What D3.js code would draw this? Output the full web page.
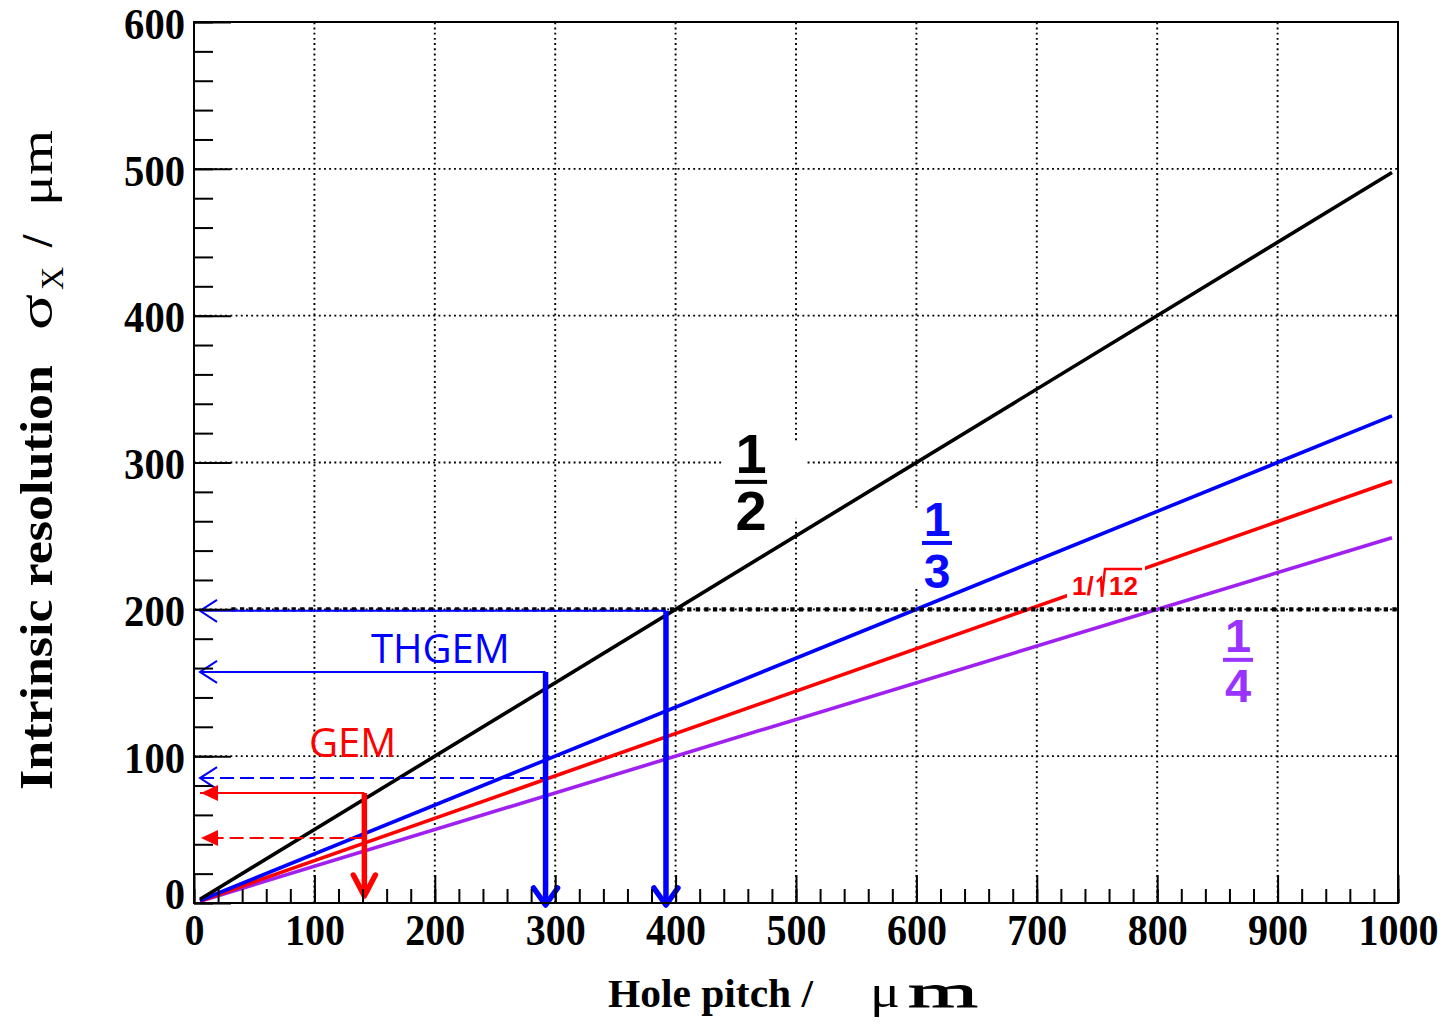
<!DOCTYPE html>
<html><head><meta charset="utf-8">
<script src="https://cdn.jsdelivr.net/npm/d3@7"></script>
<style>body{margin:0;background:#fff}</style>
</head><body>
<svg id="c" width="1445" height="1036"></svg>
<script>
// ---------- data ----------
const pitch = [5, 995];                 // hole pitch (µm)
const halfVals = [2.5, 497.5];          // σ = p/2
const thirdVals = [1.7, 331.7];         // σ = p/3
const sqrt12Vals = [1.4, 287.2];        // σ = p/√12
const quarterVals = [1.25, 248.75];     // σ = p/4
const xTickValues = [0,100,200,300,400,500,600,700,800,900,1000];
const xTickLabels = ["0","100","200","300","400","500","600","700","800","900","1000"];
const yTickValues = [0,100,200,300,400,500,600];
const yTickLabels = ["0","100","200","300","400","500","600"];
const refLevel = 200;                   // dotted reference line
// THGEM annotation arrows
const thgemPitch = [392, 292];
const thgemRes = [199, 157.4];
const thgemDashedRes = 85.1;
// GEM annotation arrows
const gemPitch = 141.5;
const gemRes = 74.9;
const gemDashedRes = 44.3;
const arrowTipPitch = 5;

// ---------- setup ----------
const svg = d3.select("#c");
svg.append("rect").attr("width",1445).attr("height",1036).attr("fill","#fff");
const x = d3.scaleLinear().domain([0,1000]).range([194,1398]);
const y = d3.scaleLinear().domain([0,600]).range([903,22]);

// grid
const grid = svg.append("g").attr("stroke","#000").attr("stroke-width",1.9).attr("stroke-dasharray","1.9 3.3");
xTickValues.slice(1,-1).forEach(v=>{
  grid.append("line").attr("x1",x(v)).attr("x2",x(v)).attr("y1",y(0)).attr("y2",y(600));
});
yTickValues.slice(1,-1).forEach(v=>{
  grid.append("line").attr("x1",x(0)).attr("x2",x(1000)).attr("y1",y(v)).attr("y2",y(v));
});

// white boxes behind fraction labels
function box(px0,py0,px1,py1){
  svg.append("rect").attr("x",px0).attr("y",py0).attr("width",px1-px0).attr("height",py1-py0).attr("fill","#fff");
}
box(x(440), y(314.3), x(509), y(261.8));
box(x(590), y(268.4), x(640), y(215.5));

// curves
const line = d3.line().x(d=>x(d[0])).y(d=>y(d[1]));
const series = [
  {v:quarterVals, c:"#a020f0"},
  {v:sqrt12Vals, c:"#ff0000"},
  {v:thirdVals, c:"#0000ff"},
  {v:halfVals, c:"#000000"}
];
series.forEach(s=>{
  svg.append("path").attr("d", line(pitch.map((p,i)=>[p,s.v[i]])))
    .attr("fill","none").attr("stroke",s.c).attr("stroke-width",3.6);
});

// red label with white background
const rl = svg.append("g").attr("transform",`translate(${x(729.2)},${y(209.8)})`);
rl.append("rect").attr("x",-5).attr("y",-33).attr("width",78).attr("height",38).attr("fill","#fff");
rl.append("text").attr("x",0).attr("y",0).attr("font-family","Liberation Sans, Arial, sans-serif")
  .attr("font-weight","bold").attr("font-size",26).attr("fill","#ff0000").text("1/");
rl.append("path").attr("d","M25,-13 L29,-17 L30,2 L33,-26 L70,-26").attr("fill","none")
  .attr("stroke","#ff0000").attr("stroke-width",2.4);
rl.append("text").attr("x",37).attr("y",0).attr("font-family","Liberation Sans, Arial, sans-serif")
  .attr("font-weight","bold").attr("font-size",26).attr("fill","#ff0000").text("12");

// reference dotted line at 200
svg.append("line").attr("x1",x(31)).attr("x2",x(1000)).attr("y1",y(refLevel)).attr("y2",y(refLevel))
  .attr("stroke","#000").attr("stroke-width",4.2).attr("stroke-dasharray","4.3 4.3");

// fractions
function frac(pc, rc, num, den, color, fs, barW, nOff, dOff){
  const g = svg.append("g").attr("transform",`translate(${x(pc)},${y(rc)})`)
    .attr("font-family","Liberation Sans, Arial, sans-serif").attr("font-weight","bold")
    .attr("font-size",fs).attr("fill",color).attr("text-anchor","middle");
  g.append("text").attr("x",0).attr("y",nOff).text(num);
  g.append("rect").attr("x",-barW/2).attr("y",-2).attr("width",barW).attr("height",4);
  g.append("text").attr("x",0).attr("y",dOff).text(den);
}
frac(462.7, 286.8, "1", "2", "#000000", 56, 32, -9, 48);
frac(617.1, 245.2, "1", "3", "#0a0aff", 48, 30, -7, 45);
frac(867.1, 165.6, "1", "4", "#9933ff", 47, 30, -8, 42);

// arrows
function openHeadLeft(px, py, color, w){
  svg.append("path").attr("d",`M${px+17},${py-11} L${px},${py} L${px+17},${py+11}`)
    .attr("fill","none").attr("stroke",color).attr("stroke-width",w);
}
function filledHeadLeft(px, py, color){
  svg.append("path").attr("d",`M${px},${py} L${px+17},${py-8} L${px+17},${py+8} Z`).attr("fill",color);
}
function hline(p0,p1,r,color,w,dash){
  const l = svg.append("line").attr("x1",x(p0)).attr("x2",x(p1)).attr("y1",y(r)).attr("y2",y(r))
    .attr("stroke",color).attr("stroke-width",w);
  if(dash) l.attr("stroke-dasharray",dash);
}
function downArrow(p, r0, tipPx, color, hw, hh){
  const px = x(p);
  svg.append("line").attr("x1",px).attr("x2",px).attr("y1",y(r0)).attr("y2",tipPx-3)
    .attr("stroke",color).attr("stroke-width",5.5);
  svg.append("path").attr("d",`M${px-hw},${tipPx-hh} L${px},${tipPx} L${px+hw},${tipPx-hh}`)
    .attr("fill","none").attr("stroke",color).attr("stroke-width",5.5)
    .attr("stroke-linejoin","round").attr("stroke-linecap","round");
}
// THGEM (blue)
thgemPitch.forEach((p,i)=>{
  hline(arrowTipPitch, p, thgemRes[i], "#0000ff", 2);
  openHeadLeft(x(arrowTipPitch), y(thgemRes[i]), "#0000ff", 2);
});
hline(arrowTipPitch, thgemPitch[1], thgemDashedRes, "#0000ff", 2, "14 6");
openHeadLeft(x(arrowTipPitch), y(thgemDashedRes), "#0000ff", 2);
thgemPitch.forEach((p,i)=> downArrow(p, thgemRes[i], 905, "#0000ff", 12, 17));
// GEM (red)
hline(arrowTipPitch, gemPitch, gemRes, "#ff0000", 2);
filledHeadLeft(x(arrowTipPitch)+1, y(gemRes), "#ff0000");
hline(arrowTipPitch+8, gemPitch, gemDashedRes, "#ff0000", 2, "14 6");
filledHeadLeft(x(arrowTipPitch)+1, y(gemDashedRes), "#ff0000");
downArrow(gemPitch, gemRes, 896, "#ff0000", 11, 21);

// labels
svg.append("text").attr("x",371).attr("y",663).attr("font-family","Open Sans, sans-serif")
  .attr("font-size",40).attr("fill","#0000ff").text("THGEM");
svg.append("text").attr("x",309).attr("y",757).attr("font-family","Open Sans, sans-serif")
  .attr("font-size",40).attr("fill","#ff0000").text("GEM");

// axes
const fontSerif = "Liberation Serif, Times New Roman, serif";
function styleAxis(g){
  g.select(".domain").remove();
  g.selectAll(".tick line").attr("stroke","#000").attr("stroke-width",2);
}
const gxMinor = svg.append("g").attr("transform",`translate(0,${y(0)})`)
  .call(d3.axisBottom(x).tickValues(d3.range(0,1001,20)).tickSize(-14).tickFormat(""));
styleAxis(gxMinor);
const gx = svg.append("g").attr("transform",`translate(0,${y(0)})`)
  .call(d3.axisBottom(x).tickValues(xTickValues).tickSize(-28).tickPadding(12)
    .tickFormat((d,i)=>xTickLabels[i]));
styleAxis(gx);
gx.selectAll("text").attr("font-family",fontSerif).attr("font-weight","bold").attr("font-size",44)
  .attr("fill","#000").attr("dy","0.69em")
  .attr("textLength",(d,i)=>20*xTickLabels[i].length).attr("lengthAdjust","spacingAndGlyphs");

const gyMinor = svg.append("g").attr("transform",`translate(${x(0)},0)`)
  .call(d3.axisLeft(y).tickValues(d3.range(0,601,20)).tickSize(-19).tickFormat(""));
styleAxis(gyMinor);
const gy = svg.append("g").attr("transform",`translate(${x(0)},0)`)
  .call(d3.axisLeft(y).tickValues(yTickValues).tickSize(-37).tickPadding(9)
    .tickFormat((d,i)=>yTickLabels[i]));
styleAxis(gy);
gy.selectAll("text").attr("font-family",fontSerif).attr("font-weight","bold").attr("font-size",44)
  .attr("fill","#000").attr("dy",(d)=> d===0 ? "0.12em" : "0.37em")
  .attr("textLength",(d,i)=>20.3*yTickLabels[i].length).attr("lengthAdjust","spacingAndGlyphs");

// frame
svg.append("rect").attr("x",x(0)).attr("y",y(600)).attr("width",x(1000)-x(0)).attr("height",y(0)-y(600))
  .attr("fill","none").attr("stroke","#000").attr("stroke-width",2);

// axis titles
const xt = svg.append("g").attr("font-family",fontSerif).attr("fill","#000").attr("font-weight","bold");
xt.append("text").attr("x",608).attr("y",1007).attr("font-size",41)
  .attr("textLength",205).attr("lengthAdjust","spacingAndGlyphs").text("Hole pitch /");
xt.append("text").attr("x",870).attr("y",1007).attr("font-size",46).attr("font-weight","normal")
  .attr("textLength",30).attr("lengthAdjust","spacingAndGlyphs").text("μ");
xt.append("text").attr("x",908).attr("y",1007).attr("font-size",46).attr("font-weight","normal")
  .attr("stroke","#000").attr("stroke-width",0.8)
  .attr("textLength",70).attr("lengthAdjust","spacingAndGlyphs").text("m");

const yt = svg.append("g").attr("transform","translate(52,0) rotate(-90)")
  .attr("font-family",fontSerif).attr("font-weight","bold").attr("fill","#000");
yt.append("text").attr("x",-790).attr("y",0).attr("font-size",46)
  .attr("textLength",425).attr("lengthAdjust","spacingAndGlyphs").text("Intrinsic resolution");
yt.append("text").attr("x",-330).attr("y",0).attr("font-size",48).attr("font-weight","normal")
  .attr("textLength",36).attr("lengthAdjust","spacingAndGlyphs").text("σ");
yt.append("text").attr("x",-290).attr("y",11).attr("font-size",32).attr("font-weight","normal").text("X");
yt.append("text").attr("x",-247).attr("y",0).attr("font-size",44).text("/");
yt.append("text").attr("x",-206).attr("y",0).attr("font-size",46).attr("font-weight","normal")
  .attr("textLength",76).attr("lengthAdjust","spacingAndGlyphs").text("μm");
</script>
</body></html>
